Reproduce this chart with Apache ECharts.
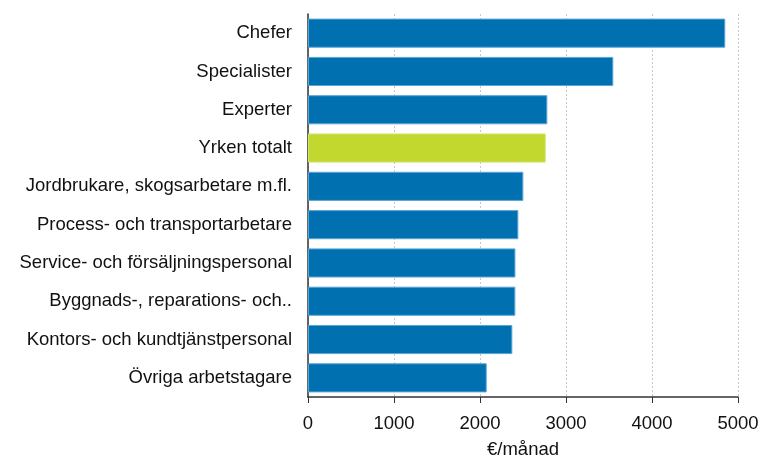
<!DOCTYPE html>
<html><head><meta charset="utf-8">
<script src="https://cdn.jsdelivr.net/npm/echarts@6/dist/echarts.min.js"></script>
<style>html,body{margin:0;padding:0;background:#fff}#c{width:760px;height:455px}</style>
</head><body><div id="c"></div>
<script>
const categories = ["Chefer","Specialister","Experter","Yrken totalt","Jordbrukare, skogsarbetare m.fl.","Process- och transportarbetare","Service- och försäljningspersonal","Byggnads-, reparations- och..","Kontors- och kundtjänstpersonal","Övriga arbetstagare"];
const values = [4852,3550,2783,2764,2504,2446,2412,2411,2376,2078];
const highlight = "Yrken totalt";
const xTicks = [0,1000,2000,3000,4000,5000];
const axisName = "€/månad";

const chart = echarts.init(document.getElementById('c'));
const font = 'Liberation Sans, Arial';
chart.setOption({
  animation:false,
  grid:{left:308,right:22,top:14,bottom:58,containLabel:false,outerBoundsMode:'none'},
  xAxis:{type:'value',min:xTicks[0],max:xTicks[xTicks.length-1],interval:1000,
    name:axisName,nameLocation:'middle',nameGap:43,
    nameTextStyle:{fontFamily:font,fontSize:18.5,color:'#111'},
    axisLine:{show:true,lineStyle:{color:'#333',width:1.5}},
    axisTick:{show:true,length:6,lineStyle:{color:'#333'}},
    axisLabel:{fontFamily:font,fontSize:18.5,color:'#111',margin:17,formatter:v=>String(v)},
    splitLine:{show:true,lineStyle:{color:'#c8c8c8',type:[2,2],width:1}}},
  yAxis:{type:'category',data:categories,inverse:true,
    axisLine:{show:true,lineStyle:{color:'#333',width:1.5}},
    axisTick:{show:false},
    axisLabel:{fontFamily:font,fontSize:18.5,color:'#111',margin:16}},
  series:[{type:'bar',barCategoryGap:'24%',
    data:values.map((v,i)=>({value:v,itemStyle:{color:categories[i]===highlight?'#c3d82f':'#0070b0',
      borderColor:categories[i]===highlight?'#d4e36a':'#5aa6d6',borderWidth:1}}))}]
});
</script></body></html>
